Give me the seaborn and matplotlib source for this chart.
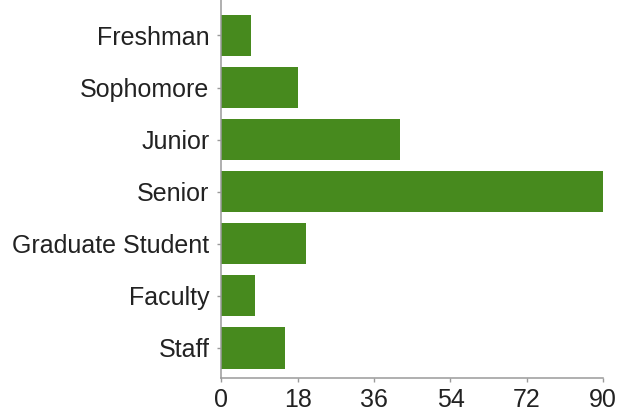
import matplotlib
matplotlib.use("Agg")
import matplotlib.pyplot as plt
import seaborn as sns
import pandas as pd

categories = ["Freshman", "Sophomore", "Junior", "Senior", "Graduate Student", "Faculty", "Staff"]
counts = [7, 18, 42, 90, 20, 8, 15]
x_ticks = [0, 18, 36, 54, 72, 90]

sns.set_theme(style="white")
plt.rcParams['font.family'] = ['Liberation Sans', 'DejaVu Sans']

df = pd.DataFrame({"category": categories, "count": counts})

fig = plt.figure(figsize=(6.18, 4.15), dpi=100)
ax = fig.add_axes([221.3 / 618, (415 - 378) / 415, (603.3 - 221.3) / 618, 378 / 415])

sns.barplot(data=df, x="count", y="category", order=categories, color="#478a1e",
            saturation=1, width=0.79, linewidth=0, ax=ax, orient="h")

ax.set_xlim(0, 90)
ax.set_ylim(6.576, -0.681)
ax.set_xticks(x_ticks)
ax.set_xticklabels([str(t) for t in x_ticks])
ax.set_xlabel("")
ax.set_ylabel("")

for s in ["top", "right"]:
    ax.spines[s].set_visible(False)
for s in ["left", "bottom"]:
    ax.spines[s].set_color("#9a9a9a")
    ax.spines[s].set_linewidth(1.1)

ax.tick_params(axis="both", which="major", length=3, width=1, color="#9a9a9a",
               labelsize=18, labelcolor="#222222", direction="out")
ax.tick_params(axis="x", pad=4, bottom=True)
ax.tick_params(axis="y", pad=5.5, left=True)

fig.savefig("out.png", dpi=100)
